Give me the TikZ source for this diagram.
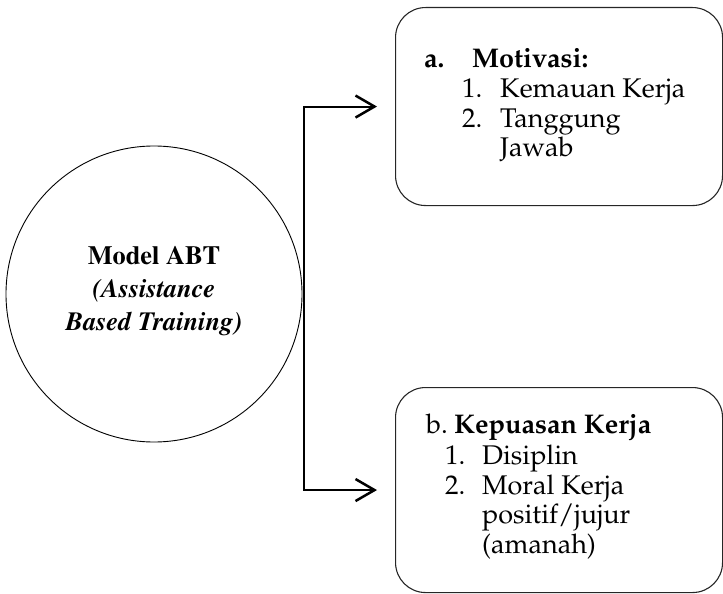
\documentclass[tikz,border=0pt]{standalone}
\usepackage[T1]{fontenc}
\usetikzlibrary{arrows.meta}
\newcommand{\palfnt}{\fontfamily{ppl}\fontsize{27}{29.5}\selectfont}
\newcommand{\timfnt}{\fontfamily{ptm}\fontsize{26.3}{33}\selectfont\bfseries}
\tikzset{
  boxshape/.style={draw=black!85, line width=1.1pt, rounded corners=30pt,
    minimum width=327pt, inner sep=0pt, anchor=north west},
  circshape/.style={draw, circle, line width=0.9pt, minimum size=296pt, inner sep=0pt},
  pal/.style={anchor=base west, inner sep=0pt, font=\palfnt},
  palb/.style={anchor=base west, inner sep=0pt, font=\palfnt\bfseries},
  tim/.style={anchor=base, inner sep=0pt, font=\timfnt},
  timi/.style={anchor=base, inner sep=0pt, font=\timfnt\itshape},
  conn/.style={line width=2pt},
  barb/.tip={Straight Barb[length=19pt,width=22pt,line width=2.5pt]}
}
\begin{document}
\begin{tikzpicture}[x=1pt,y=-1pt]
\useasboundingbox (0,0) rectangle (723,594);
% circle
\node[circshape] (abt) at (154,294) {};
\node[tim]  (m1) at (154,264) {Model ABT};
\node[timi] (m2) at (154,297) {(Assistance};
\node[timi] (m3) at (154,330) {Based Training)};
% boxes
\node[boxshape, minimum height=198pt] (mot) at (395,7) {};
\node[boxshape, minimum height=205pt] (kep) at (395,387) {};
% connector
\coordinate (vx) at (304,0);
\draw[conn, barb-barb, shorten <=18pt, shorten >=18pt]
  (mot.west) -- (mot.west -| vx) -- (kep.west -| vx) -- (kep.west);
% top box text
\node[palb] (ta) at (424,67) {a.};
\node[palb] (tm) at (472,67) {Motivasi:};
\node[pal]  (t1) at (462,97.5) {1.};
\node[pal]  (tk) at (500,97.5) {Kemauan Kerja};
\node[pal]  (t2) at (462,127) {2.};
\node[pal]  (tt) at (500,127) {Tanggung};
\node[pal]  (tj) at (500,156.5) {Jawab};
% bottom box text
\node[pal]  (bb) at (426,433.5) {b.};
\node[palb] (bk) at (454,433.5) {Kepuasan Kerja};
\node[pal]  (b1) at (445,464.5) {1.};
\node[pal]  (bd) at (482,464.5) {Disiplin};
\node[pal]  (b2) at (445,494.5) {2.};
\node[pal]  (bm) at (482,494.5) {Moral Kerja};
\node[pal]  (bp) at (482,523.5) {positif/jujur};
\node[pal]  (ba) at (482,553) {(amanah)};
\end{tikzpicture}
\end{document}
